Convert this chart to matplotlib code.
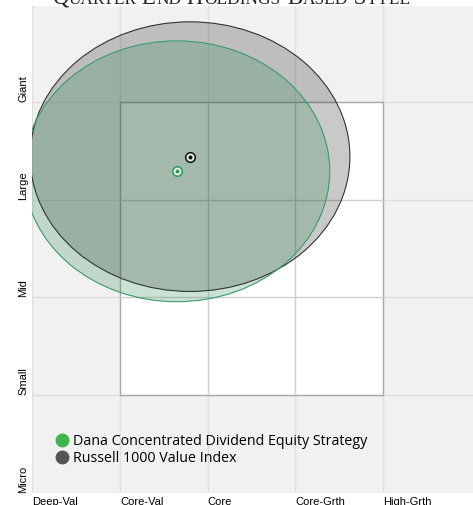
import matplotlib
matplotlib.use("Agg")
import matplotlib.pyplot as plt
from matplotlib.patches import Ellipse, Rectangle
from matplotlib.lines import Line2D

# 风格箱数据（x: 价值->成长, y: 市值）
x_labels = ["Deep-Val", "Core-Val", "Core", "Core-Grth", "High-Grth"]
y_labels = ["Micro", "Small", "Mid", "Large", "Giant"]

series_names = ["Dana Concentrated Dividend Equity Strategy", "Russell 1000 Value Index"]
centers_x = [1.65, 1.80]
centers_y = [3.29, 3.44]
spread_w = [3.49, 3.65]
spread_h = [2.67, 2.76]

fill_colors = ["#2e8b57", "#000000"]
fill_alpha = [0.25, 0.21]
edge_colors = ["#3a9a6a", "#333333"]
dot_colors = ["#2e9e55", "#111111"]
legend_colors = ["#3db54a", "#555555"]

fig = plt.figure(figsize=(4.73, 5.05), dpi=100)
ax = fig.add_axes([32.3 / 473, 12.3 / 505, 1 - 32.3 / 473, 486.7 / 505])
ax.set_facecolor("#f1f1f1")
ax.set_xlim(0, 5.03)
ax.set_ylim(0, 4.982)

# 网格
ax.set_xticks(range(len(x_labels)))
ax.set_yticks(range(len(y_labels)))
ax.grid(True, color="#dedede", lw=1, zorder=0)
ax.set_axisbelow(True)
for s in ax.spines.values():
    s.set_visible(False)

# 中间的 3x3 白色方框
ax.add_patch(Rectangle((1, 1), 3, 3, facecolor="white", edgecolor="#a8a8a8", lw=1, zorder=1))
ax.vlines([2, 3], 1, 4, color="#cfcfcf", lw=1, zorder=1.5)
ax.hlines([2, 3], 1, 4, color="#cfcfcf", lw=1, zorder=1.5)

# 椭圆（先画填充，再画边线）
for i in [1, 0]:
    ax.add_patch(Ellipse((centers_x[i], centers_y[i]), spread_w[i], spread_h[i],
                         facecolor=fill_colors[i], alpha=fill_alpha[i], edgecolor="none", zorder=2))
for i in [1, 0]:
    ax.add_patch(Ellipse((centers_x[i], centers_y[i]), spread_w[i], spread_h[i],
                         facecolor="none", edgecolor=edge_colors[i], lw=0.8, zorder=3))

# 中心点
for i in range(len(series_names)):
    ax.plot(centers_x[i], centers_y[i], marker="o", ms=7, mfc="none", mec=dot_colors[i], mew=1.0, zorder=4)
    ax.plot(centers_x[i], centers_y[i], marker="o", ms=4, mfc=dot_colors[i], mec="white", mew=1.0, zorder=5)

# 刻度标签
ax.set_xticklabels(x_labels, ha="left", fontsize=8, family="Liberation Sans")
ax.set_yticklabels(y_labels, rotation=90, va="bottom", fontsize=8, family="Liberation Sans")
ax.tick_params(length=0, pad=3)

# 图例
handles = [Line2D([], [], marker="o", ls="", color=c, ms=9) for c in legend_colors]
leg = ax.legend(handles, series_names, loc="upper left", bbox_to_anchor=(0.0512, 0.120),
                frameon=False, borderpad=0, borderaxespad=0, handlelength=1, handletextpad=0.27,
                labelspacing=0.09, prop={"family": "Open Sans", "size": 10.25})

# 标题（小型大写字母，逐段拼接）
title = "Quarter End Holdings-Based Style"
runs = []
for ch in title:
    kind = "big" if (ch.isupper() or ch in " -") else "small"
    txt = ch.upper()
    if runs and runs[-1][0] == kind:
        runs[-1][1] += txt
    else:
        runs.append([kind, txt])

fig.canvas.draw()
renderer = fig.canvas.get_renderer()
x0 = 52.0
ybase = 1 - 3.7 / 505
for kind, txt in runs:
    size = 16.5 if kind == "big" else 12.4
    t = fig.text(x0 / 473, ybase, txt, fontsize=size, family="Liberation Serif",
                 va="baseline", ha="left", color="#222222", zorder=0)
    bb = t.get_window_extent(renderer)
    x0 += bb.width

fig.savefig("out.png", dpi=100)
